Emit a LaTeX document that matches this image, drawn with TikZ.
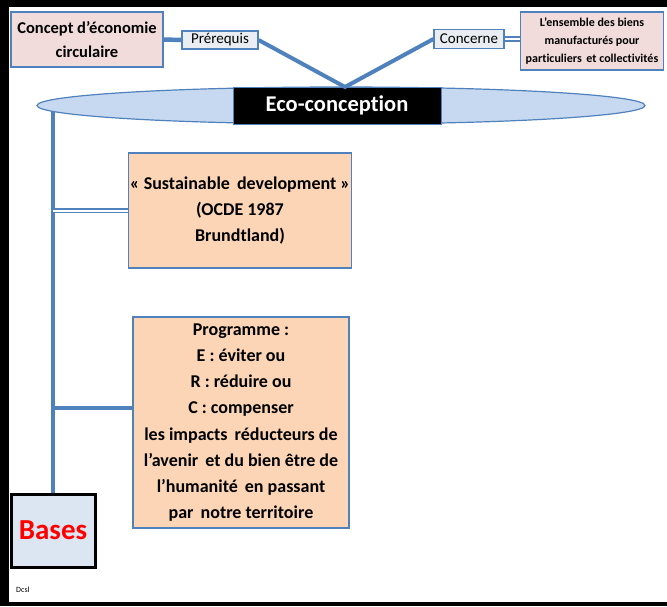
\documentclass[tikz,border=0pt]{standalone}
\usepackage{fontspec}
\setmainfont{Carlito}[Ligatures=NoCommon]
\usetikzlibrary{shapes}
\definecolor{bordblue}{RGB}{79,129,189}
\definecolor{linkblue}{RGB}{79,129,189}
\definecolor{pinkfill}{RGB}{242,220,219}
\definecolor{peachfill}{RGB}{251,213,181}
\definecolor{ellfill}{RGB}{198,217,241}
\definecolor{basefill}{RGB}{220,230,242}
\definecolor{tagfill}{RGB}{234,238,243}

\begin{document}
\begin{tikzpicture}[x=1pt,y=1pt,yscale=-1,xscale=1,
  box/.style={draw=bordblue,line width=1.2pt,align=center,inner sep=0pt},
  tag/.style={box,fill=tagfill,font=\fontsize{15}{16}\selectfont},
  link/.style={draw=linkblue,line width=4.5pt},
  duo/.style={draw=linkblue,double=white,line width=1.7pt,double distance=2pt}]
\useasboundingbox (0,0) rectangle (667,606);

%Frame
\draw [line width=9]    (4.5,0) -- (4.5,606) ;
\draw [line width=7]    (0,3.5) -- (667,3.5) ;
\draw [line width=4]    (0,604) -- (667,604) ;

%Shape: Ellipse
\node [ellipse,draw=bordblue,line width=1.2pt,fill=ellfill,minimum width=608,minimum height=37,inner sep=0] (ell) at (341,105.5) {};
%Shape: Rectangle
\node [fill=black,draw=bordblue,minimum width=208,minimum height=37,inner sep=0,text=white,font=\bfseries\fontsize{22.5}{24}\selectfont] (eco) at (337,105.5) {Eco-conception};

%Shape: Rectangle
\node [box,fill=pinkfill,minimum width=152,minimum height=55,font=\bfseries\fontsize{16.5}{24}\selectfont] (concept) at (87,39.5) {Concept d’économie\\circulaire};
\node [tag,minimum width=76,minimum height=18] (pre) at (220,40) {Prérequis};
\node [tag,minimum width=70,minimum height=19] (con) at (469,39) {Concerne};
\node [box,fill=pinkfill,minimum width=143,minimum height=58,font=\bfseries\fontsize{12}{18}\selectfont] (goods) at (592,41) {L’ensemble des biens\\manufacturés pour\\particuliers\, et collectivités};

%Shape: Rectangle
\node [box,fill=peachfill,minimum width=223,minimum height=115,font=\bfseries\fontsize{18}{26}\selectfont] (sust) at (240,210.5) {« Sustainable\, development »\\(OCDE 1987\\Brundtland)};
\node [box,fill=peachfill,minimum width=216,minimum height=211,font=\bfseries\fontsize{18}{26.2}\selectfont] (prog) at (241,422.5) {Programme :\\E : éviter ou\\R : réduire ou\\C : compenser\\les impacts\, réducteurs de\\l’avenir\, et du bien être de\\l’humanité\, en passant\\par\, notre territoire};
\node [draw=black,line width=3pt,fill=basefill,minimum width=84,minimum height=73,inner sep=0,text=red,font=\bfseries\fontsize{29}{30}\selectfont] (bases) at (53,530.5) {Bases};

%Straight Lines
\coordinate (apex) at (345,87);
\coordinate (stem) at (53,111);
\draw [link]    (concept.east) -- (pre.west) ;
\draw [link,line width=4pt,line join=miter]    (pre.east) -- (apex) -- (con.west) ;
\draw [duo]    (con.east) -- (con.east -| goods.west) ;
\draw [link]    (stem) -- (bases.north) ;
\draw [duo]    (stem |- sust.west) -- (sust.west) ;
\draw [link]    (stem |- 0,408) -- (prog.west |- 0,408) ;

% Text Node
\node [anchor=west,inner sep=0,font=\fontsize{8}{9}\selectfont] (sig) at (16,590) {Dcsl};

\end{tikzpicture}
\end{document}
